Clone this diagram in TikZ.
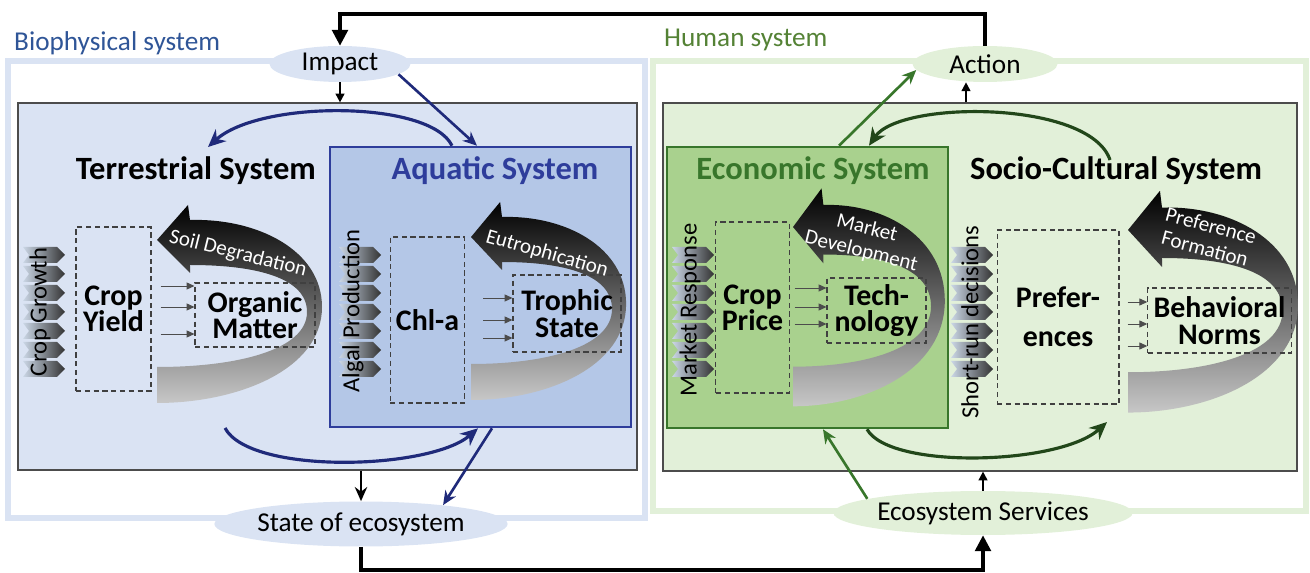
\documentclass[tikz,border=0pt]{standalone}
\usepackage{fontspec}
\setmainfont{Carlito}
\usetikzlibrary{shapes.geometric,arrows.meta}

\definecolor{biofill}{HTML}{DAE3F3}
\definecolor{humfill}{HTML}{E2F0D9}
\definecolor{aquafill}{HTML}{B4C7E7}
\definecolor{aquablue}{HTML}{2E3D9B}
\definecolor{econfill}{HTML}{A9D18E}
\definecolor{econgreen}{HTML}{38762B}
\definecolor{navy}{HTML}{1F2A7A}
\definecolor{biotext}{HTML}{2F5597}
\definecolor{humtext}{HTML}{548235}
\definecolor{chevlight}{HTML}{CBD7E6}
\definecolor{chevmid}{HTML}{8A9BB0}

\tikzset{
  lbl/.style={font=\fontsize{15.5}{18}\selectfont},
  oval/.style={ellipse, lbl, inner sep=0pt},
  outerframe/.style={line width=3.4pt},
  panel/.style={draw=black!70, line width=0.7pt},
  systitle/.style={font=\bfseries\fontsize{18.5}{21}\selectfont},
  dashbox/.style={draw=black!75, densely dashed, line width=0.6pt, align=center,
    font=\bfseries\fontsize{17}{15}\selectfont},
  sidelbl/.style={font=\fontsize{14}{16}\selectfont, rotate=90},
  swirllbl/.style={font=\fontsize{12}{13.5}\selectfont, text=white, align=center, inner sep=1pt},
  feed/.style={line width=1.8pt, -{Triangle[length=9pt,width=9pt]}},
  link/.style={line width=1.5pt, -{Stealth[length=8pt,width=7pt]}},
  tinyarr/.style={line width=1pt, -{Triangle[length=5pt,width=5pt]}},
  smallflow/.style={line width=0.5pt, black!70, -{Triangle[length=4.5pt,width=4pt]}},
  arcarr/.style={line width=1.8pt, -{Stealth[length=10pt,width=9pt]}},
  swirl/.pic={
    \shade[top color=black, middle color=black!55, bottom color=black!22]
      (0,0) -- (31,-35) -- (33,-20)
      .. controls (100,-22) and (165,10) .. (165,67)
      .. controls (165,130) and (80,163) .. (0,163)
      -- (0,127)
      .. controls (80,127) and (150,110) .. (150,72)
      .. controls (150,38) and (100,25) .. (33,25)
      -- (33,33) -- cycle;
  },
  chev/.pic={
    \shade[left color=chevlight, middle color=chevmid, right color=black!80]
      (-22,-8) -- (12,-8) -- (20,0) -- (12,8) -- (-22,8) -- (-16,0) -- cycle;
  }
}

\begin{document}
\begin{tikzpicture}[x=0.02cm, y=-0.02cm]
\useasboundingbox (0,0) rectangle (1310,573);

% outer frames
\draw[outerframe, draw=biofill] (8,61) rectangle (645,518);
\draw[outerframe, draw=humfill] (653,61) rectangle (1306,511);
\node[lbl, text=biotext, anchor=west] (biohead) at (8,43) {Biophysical system};
\node[lbl, text=humtext, anchor=west] (humhead) at (658,40) {Human system};

% panels
\node[panel, fill=biofill, minimum width=12.38cm, minimum height=7.34cm] (bioin) at (327.5,286.5) {};
\node[panel, fill=humfill, minimum width=12.68cm, minimum height=7.36cm] (huin) at (980,287) {};
\node[draw=aquablue, line width=1.5pt, fill=aquafill, minimum width=6.02cm, minimum height=5.6cm] (aqua) at (480.5,287) {};
\node[draw=econgreen, line width=1.5pt, fill=econfill, minimum width=5.62cm, minimum height=5.62cm] (econ) at (807.5,287.5) {};

\node[systitle, anchor=east] (terrtitle) at (322,171) {Terrestrial System};
\node[systitle, text=aquablue] (aquatitle) at (495,171) {Aquatic System};
\node[systitle, text=econgreen] (econtitle) at (813,171) {Economic System};
\node[systitle] (socititle) at (1116,171) {Socio-Cultural System};

% feedback swirls
\pic at (157,240) {swirl};
\pic[xscale=0.94] at (471,237) {swirl};
\pic[xscale=0.92, yscale=1.1] at (793,227) {swirl};
\pic[xscale=1.03, yscale=1.12] at (1128,230) {swirl};

% chevron columns
\foreach \cx in {45,361,694,973}
  \foreach \k in {0,...,6}
    \pic at (\cx,{255+19*\k}) {chev};

\node[sidelbl] (growth) at (40,312) {Crop Growth};
\node[sidelbl] (algal) at (353,311) {Algal Production};
\node[sidelbl] (mresp) at (690,310) {Market Response};
\node[sidelbl] (shortrun) at (970,322) {Short-run decisions};

% state variables
\node[dashbox, minimum width=1.5cm, minimum height=3.28cm] (yield) at (113.5,309) {Crop\\Yield};
\node[dashbox, minimum width=2.4cm, minimum height=1.28cm] (organic) at (255,315) {Organic\\Matter};
\node[dashbox, minimum width=1.46cm, minimum height=3.32cm] (chla) at (427.5,320) {Chl-a};
\node[dashbox, minimum width=2.16cm, minimum height=1.54cm] (trophic) at (567,313.5) {Trophic\\State};
\node[dashbox, minimum width=1.34cm, minimum height=3.42cm] (price) at (752.5,307.5) {Crop\\Price};
\node[dashbox, minimum width=1.98cm, minimum height=1.3cm] (tech) at (876.5,310.5) {Tech-\\nology};
\node[dashbox, minimum width=2.44cm, minimum height=3.48cm] (prefs) at (1058,317) {Prefer-\\[7pt]ences};
\node[dashbox, minimum width=2.82cm, minimum height=1.3cm] (norms) at (1219.5,320.5) {Behavioral\\Norms};

\node[swirllbl, rotate=-14] (soil) at (238,254) {Soil Degradation};
\node[swirllbl, rotate=-16] (eutro) at (547,254) {Eutrophication};
\node[swirllbl, rotate=-14] (mktdev) at (864,240) {Market\\Development};
\node[swirllbl, rotate=-15] (prefform) at (1208,237) {Preference\\Formation};

\foreach \y in {286,307,334}
  \draw[smallflow] (yield.east |- 0,\y) ++(9,0) -- (organic.west |- 0,\y);
\foreach \y in {298,320,338}
  \draw[smallflow] (chla.east |- 0,\y) ++(18,0) -- (trophic.west |- 0,\y);
\foreach \y in {288,307,324}
  \draw[smallflow] (price.east |- 0,\y) ++(5,0) -- (tech.west |- 0,\y);
\foreach \y in {302,324,346}
  \draw[smallflow] (prefs.east |- 0,\y) ++(8,0) -- (norms.west |- 0,\y);

% interfaces
\node[oval, fill=biofill, minimum width=2.82cm, minimum height=0.72cm] (impact) at (340,64) {Impact};
\node[oval, fill=humfill, minimum width=2.9cm, minimum height=0.72cm] (action) at (985,64) {Action};
\node[oval, fill=biofill, minimum width=5.44cm, minimum height=0.9cm] (state) at (361,524) {State of ecosystem};
\node[oval, fill=humfill, minimum width=5.86cm, minimum height=0.88cm] (services) at (983,513) {Ecosystem Services};

\coordinate (terrtop) at (208,147);
\coordinate (terrbot) at (225,428);
\coordinate (socitop) at (1110,160);
\coordinate (socibot) at (1107,422);

% connectors
\draw[feed] (action.north) |- (impact.north |- 0,14) -- (impact.north);
\draw[feed] (state.south) |- (services.south |- 0,570) -- (services.south);

\draw[tinyarr] (impact.south) -- (bioin.north -| impact.south);
\draw[link, navy] (impact.-10) -- (aqua.north -| 477,0);
\draw[arcarr, navy] (aqua.north -| 452,0) .. controls (430,100) and (260,100) .. (terrtop);
\draw[arcarr, navy] (terrbot) .. controls (250,475) and (430,470) .. (aqua.south -| 478,0);
\draw[link] (bioin.south -| state.north) -- (state.north);
\draw[link, navy] (aqua.south -| 492,0) -- (state.13);

\draw[link, econgreen] (econ.north -| 839,0) -- (action.185);
\draw[tinyarr] (huin.north -| 966,0) -- (action.south -| 966,0);
\draw[arcarr, econgreen!60!black] (socitop) .. controls (1090,100) and (900,100) .. (econ.north -| 869,0);
\draw[arcarr, econgreen!60!black] (econ.south -| 867,0) .. controls (890,470) and (1060,465) .. (socibot);
\draw[link, econgreen] (services.173) -- (econ.south -| 823,0);
\draw[tinyarr] (services.north) -- (huin.south -| services.north);
\end{tikzpicture}
\end{document}
